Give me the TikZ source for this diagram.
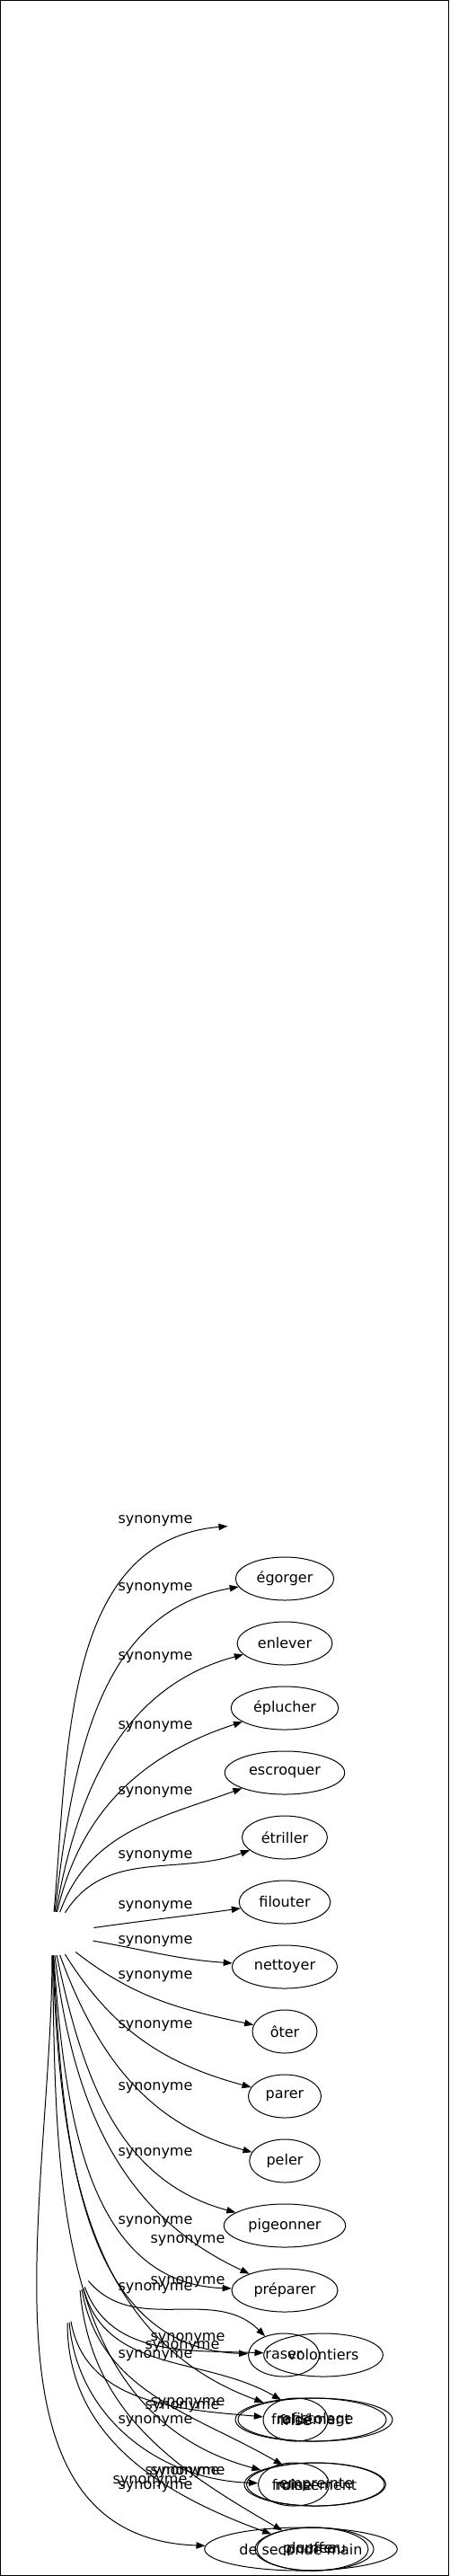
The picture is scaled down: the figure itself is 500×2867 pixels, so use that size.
\documentclass[tikz,border=0pt]{standalone}
\usepackage{fontspec}
\setmainfont{DejaVu Sans}
\usetikzlibrary{shapes.geometric,arrows.meta}
\begin{document}
\begin{tikzpicture}[x=0.75pt,y=0.75pt,
    every node/.style={font=\fontsize{12}{14}\selectfont},
    syn/.style={shape=ellipse, draw, line width=0.75pt,
      minimum width=54pt, minimum height=36pt, inner xsep=5.5pt, inner ysep=2pt},
    blank/.style={shape=ellipse, minimum height=36pt},
    lbl/.style={inner sep=0pt},
    arr/.style={-{Triangle[length=7.5pt,width=5.5pt]}, line width=0.75pt}]
  \useasboundingbox (0,0) rectangle (500,-2867);
  \draw[line width=1pt] (0.5,-0.5) rectangle (499.5,-2866.5);

  \node[blank, minimum width=72pt] (c) at (58,-2152) {};
  \node[blank, minimum width=20pt] (c2) at (87,-2525) {};
  \node[blank, minimum width=16pt] (c3) at (75,-2561) {};
  \node[blank, minimum width=97.5pt] (n0) at (317,-1693) {};
  \node[syn] (egorger) at (317,-1757) {égorger};
  \node[syn] (enlever) at (317,-1829) {enlever};
  \node[syn] (eplucher) at (317,-1901) {éplucher};
  \node[syn] (escroquer) at (317,-1973) {escroquer};
  \node[syn] (etriller) at (317,-2045) {étriller};
  \node[syn] (filouter) at (317,-2117) {filouter};
  \node[syn] (nettoyer) at (317,-2189) {nettoyer};
  \node[syn] (oter) at (317,-2261) {ôter};
  \node[syn] (parer) at (317,-2333) {parer};
  \node[syn] (peler) at (317,-2405) {peler};
  \node[syn] (pigeonner) at (317,-2477) {pigeonner};
  \node[syn] (preparer) at (317,-2549) {préparer};
  \node[syn] (raser) at (316,-2621) {raser};
  \node[syn] (volontiers) at (360,-2621) {volontiers};
  \node[syn] (frise) at (329,-2693) {frisé};
  \node[syn, minimum width=126pt] (froidement) at (346,-2693) {froidement};
  \node[syn, minimum width=129pt] (rafistolage) at (351,-2693) {rafistolage};
  \node[syn] (ruine) at (327,-2765) {ruine};
  \node[syn, minimum width=117pt] (froissement) at (350,-2765) {froissement};
  \node[syn, minimum width=116pt] (empreinte) at (352,-2765) {empreinte};
  \node[syn, minimum width=154pt] (seconde) at (335,-2837) {de seconde main};
  \node[syn, minimum width=99pt] (plumeau) at (350,-2837) {plumeau};
  \node[syn, minimum width=93pt] (pouffer) at (348,-2837) {pouffer};

  \draw[arr] (c) to[out=85,in=185] (n0);
  \draw[arr] (c) to[out=83,in=190] (egorger);
  \draw[arr] (c) to[out=80,in=195] (enlever);
  \draw[arr] (c) to[out=77,in=198] (eplucher);
  \draw[arr] (c) to[out=70,in=200] (escroquer);
  \draw[arr] (c) to[out=58,in=200] (etriller);
  \draw[arr] (c) to[out=8,in=188] (filouter);
  \draw[arr] (c) to[out=-10,in=176] (nettoyer);
  \draw[arr] (c) to[out=-38,in=168] (oter);
  \draw[arr] (c) to[out=-58,in=165] (parer);
  \draw[arr] (c) to[out=-70,in=165] (peler);
  \draw[arr] (c) to[out=-78,in=165] (pigeonner);
  \draw[arr] (c) to[out=-83,in=155] (preparer);
  \draw[arr] (c) to[out=-86,in=178] (preparer);
  \draw[arr] (c) to[out=-87,in=178] (raser);
  \draw[arr] (c) to[out=-88,in=160] (froidement);
  \draw[arr] (c) to[out=-89,in=165] (froissement);
  \draw[arr] (c) to[out=-90,in=178] (seconde);
  \draw[arr] (c2) to[out=-50,in=135] (raser);
  \draw[arr] (c2) to[out=-70,in=178] (volontiers);
  \draw[arr] (c2) to[out=-75,in=150] (rafistolage);
  \draw[arr] (c2) to[out=-80,in=150] (empreinte);
  \draw[arr] (c2) to[out=-85,in=150] (plumeau);
  \draw[arr] (c3) to[out=-80,in=175] (frise);
  \draw[arr] (c3) to[out=-85,in=178] (ruine);
  \draw[arr] (c3) to[out=-90,in=160] (pouffer);

  \node[lbl] (l1) at (173,-1693) {synonyme};
  \node[lbl] (l2) at (173,-1768) {synonyme};
  \node[lbl] (l3) at (173,-1845) {synonyme};
  \node[lbl] (l4) at (173,-1922) {synonyme};
  \node[lbl] (l5) at (173,-1995) {synonyme};
  \node[lbl] (l6) at (173,-2066) {synonyme};
  \node[lbl] (l7) at (173,-2122) {synonyme};
  \node[lbl] (l8) at (173,-2161) {synonyme};
  \node[lbl] (l9) at (173,-2200) {synonyme};
  \node[lbl] (l10) at (173,-2255) {synonyme};
  \node[lbl] (l11) at (173,-2324) {synonyme};
  \node[lbl] (l12) at (173,-2397) {synonyme};
  \node[lbl] (l13) at (173,-2473) {synonyme};
  \node[lbl] (l14) at (173,-2547) {synonyme};
  \node[lbl] (l15) at (173,-2622) {synonyme};
  \node[lbl] (l16) at (173,-2695) {synonyme};
  \node[lbl] (l17) at (173,-2768) {synonyme};
  \node[lbl] (l18) at (167,-2762) {synonyme};
  \node[lbl] (l19) at (209,-2494) {synonyme};
  \node[lbl] (l20) at (209,-2540) {synonyme};
  \node[lbl] (l21) at (209,-2603) {synonyme};
  \node[lbl] (l22) at (209,-2675) {synonyme};
  \node[lbl] (l23) at (209,-2752) {synonyme};
  \node[lbl] (l24) at (203,-2612) {synonyme};
  \node[lbl] (l25) at (203,-2679) {synonyme};
  \node[lbl] (l26) at (203,-2752) {synonyme};
\end{tikzpicture}
\end{document}
